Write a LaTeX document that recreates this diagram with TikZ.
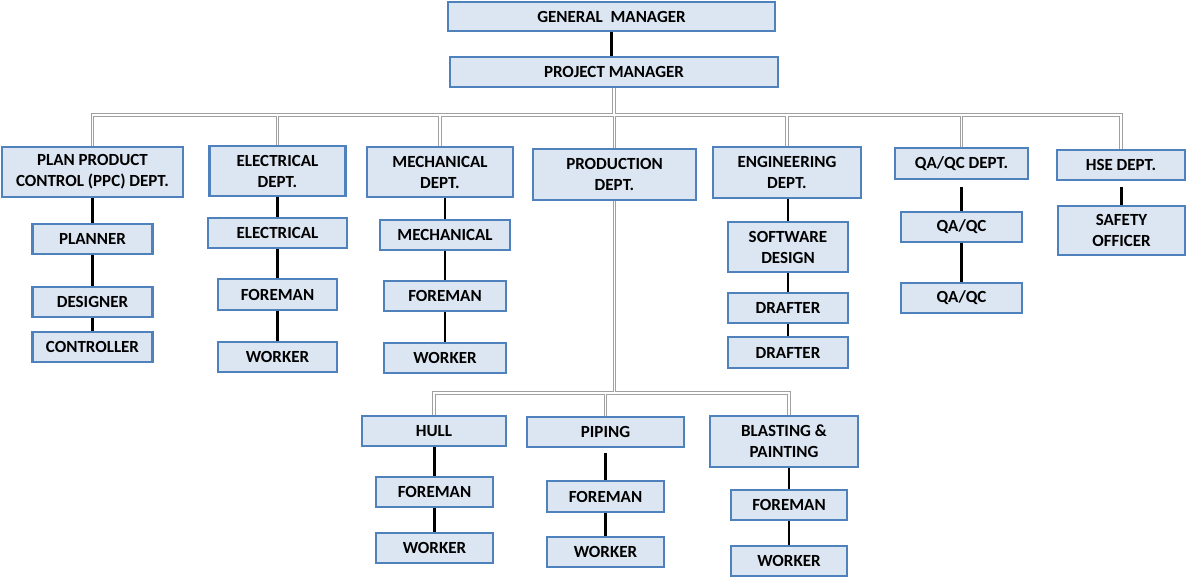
\documentclass[tikz,border=0pt]{standalone}
\usepackage{fontspec}
\setmainfont{Carlito}
\definecolor{boxfill}{RGB}{220,230,242}
\definecolor{boxline}{RGB}{79,129,189}
\definecolor{feedgray}{RGB}{160,160,160}
\begin{document}
\begin{tikzpicture}[x=1pt, y=-1pt, line join=miter,
		box/.style={draw=boxline, fill=boxfill, line width=2.4pt, inner sep=0pt, align=center,
			font=\fontsize{17}{21}\selectfont\bfseries},
		feed/.style={draw=feedgray, double=white, double distance=1.6pt, line width=0.9pt},
		link/.style={draw=black, line width=2.6pt}]
			\useasboundingbox (0,0) rectangle (1186,576);
			
			\node[box, minimum width=327pt, minimum height=29pt] (gm) at (611.5,16.5) {GENERAL\ \ MANAGER};
			\node[box, minimum width=328pt, minimum height=30pt] (pm) at (614,72) {PROJECT MANAGER};
			
			\node[box, minimum width=181pt, minimum height=50pt] (ppc) at (92.5,172) {PLAN PRODUCT\\CONTROL (PPC) DEPT.};
			\node[box, minimum width=136pt, minimum height=50pt] (eld) at (277.5,171) {ELECTRICAL\\DEPT.};
			\node[box, minimum width=146pt, minimum height=50pt] (med) at (440,172) {MECHANICAL\\DEPT.};
			\node[box, minimum width=163pt, minimum height=51pt] (prd) at (614.5,174.5) {PRODUCTION\\DEPT.};
			\node[box, minimum width=148pt, minimum height=51pt] (eng) at (787,172.5) {ENGINEERING\\DEPT.};
			\node[box, minimum width=133pt, minimum height=31pt] (qad) at (961.5,163.5) {QA/QC DEPT.};
			\node[box, minimum width=128pt, minimum height=30pt] (hse) at (1121,165) {HSE DEPT.};
			
			\node[box, minimum width=120pt, minimum height=30pt] (plan) at (92.5,239) {PLANNER};
			\node[box, minimum width=120pt, minimum height=30pt] (desi) at (92.5,302) {DESIGNER};
			\node[box, minimum width=120pt, minimum height=30pt] (ctrl) at (92.5,347) {CONTROLLER};
			
			\node[box, minimum width=139pt, minimum height=30pt] (elec) at (277.5,233) {ELECTRICAL};
			\node[box, minimum width=119pt, minimum height=31pt] (elfm) at (277.5,294.5) {FOREMAN};
			\node[box, minimum width=119pt, minimum height=30pt] (elwk) at (277.5,357) {WORKER};
			
			\node[box, minimum width=130pt, minimum height=30pt] (mech) at (445,235) {MECHANICAL};
			\node[box, minimum width=122pt, minimum height=30pt] (mefm) at (445,296) {FOREMAN};
			\node[box, minimum width=122pt, minimum height=30pt] (mewk) at (445,358) {WORKER};
			
			\node[box, minimum width=120pt, minimum height=50pt] (soft) at (788,247) {SOFTWARE\\DESIGN};
			\node[box, minimum width=120pt, minimum height=30pt] (drfa) at (788,308) {DRAFTER};
			\node[box, minimum width=120pt, minimum height=31pt] (drfb) at (788,352.5) {DRAFTER};
			
			\node[box, minimum width=121pt, minimum height=30pt] (qaa) at (961.5,227) {QA/QC};
			\node[box, minimum width=121pt, minimum height=30pt] (qab) at (961.5,298) {QA/QC};
			
			\node[box, minimum width=127pt, minimum height=49pt] (safe) at (1121.5,230.5) {SAFETY\\OFFICER};
			
			\node[box, minimum width=144pt, minimum height=30pt] (hull) at (434,431) {HULL};
			\node[box, minimum width=117pt, minimum height=30pt] (hufm) at (434.5,492) {FOREMAN};
			\node[box, minimum width=117pt, minimum height=30pt] (huwk) at (434.5,548) {WORKER};
			
			\node[box, minimum width=157pt, minimum height=30pt] (pipe) at (605.5,432) {PIPING};
			\node[box, minimum width=117pt, minimum height=31pt] (pifm) at (605.5,496.5) {FOREMAN};
			\node[box, minimum width=117pt, minimum height=30pt] (piwk) at (605.5,552) {WORKER};
			
			\node[box, minimum width=148pt, minimum height=51pt] (blst) at (784,441.5) {BLASTING \&\\PAINTING};
			\node[box, minimum width=116pt, minimum height=30pt] (blfm) at (789,505) {FOREMAN};
			\node[box, minimum width=116pt, minimum height=30pt] (blwk) at (789,561) {WORKER};
			
			\coordinate (bus) at (613,115);
			\coordinate (lbus) at (614.5,393);
			
			\draw[feed] (pm.south) -- (pm.south |- bus)
			(ppc.north) |- (bus) -| (hse.north)
			(eld.north) -- (eld.north |- bus)
			(med.north) -- (med.north |- bus)
			(prd.north) -- (prd.north |- bus)
			(eng.north) -- (eng.north |- bus)
			(qad.north) -- (qad.north |- bus);
			
			\draw[feed] (prd.south) -- (lbus)
			(hull.north) |- (lbus) -| (blfm.north |- blst.north)
			(pipe.north) -- (pipe.north |- lbus);
			
			\draw[link] (gm.south) -- (gm.south |- pm.north);
			\draw[link] (plan.north |- ppc.south) -- (plan.north) (plan.south) -- (desi.north) (desi.south) -- (ctrl.north);
			\draw[link] (elec.north |- eld.south) -- (elec.north) (elec.south) -- (elfm.north) (elfm.south) -- (elwk.north);
			\draw[link] (mech.north |- med.south) -- (mech.north) (mech.south) -- (mefm.north) (mefm.south) -- (mewk.north);
			\draw[link] (soft.north |- eng.south) -- (soft.north) (soft.south) -- (drfa.north) (drfa.south) -- (drfb.north);
			\draw[link, shorten <=7pt] (qaa.north |- qad.south) -- (qaa.north);
			\draw[link] (qaa.south) -- (qab.north);
			\draw[link, shorten <=6pt] (safe.north |- hse.south) -- (safe.north);
			\draw[link] (hufm.north |- hull.south) -- (hufm.north) (hufm.south) -- (huwk.north);
			\draw[link, shorten <=5pt] (pifm.north |- pipe.south) -- (pifm.north);
			\draw[link] (pifm.south) -- (piwk.north);
			\draw[link] (blfm.north |- blst.south) -- (blfm.north) (blfm.south) -- (blwk.north);
\end{tikzpicture}
\end{document}
